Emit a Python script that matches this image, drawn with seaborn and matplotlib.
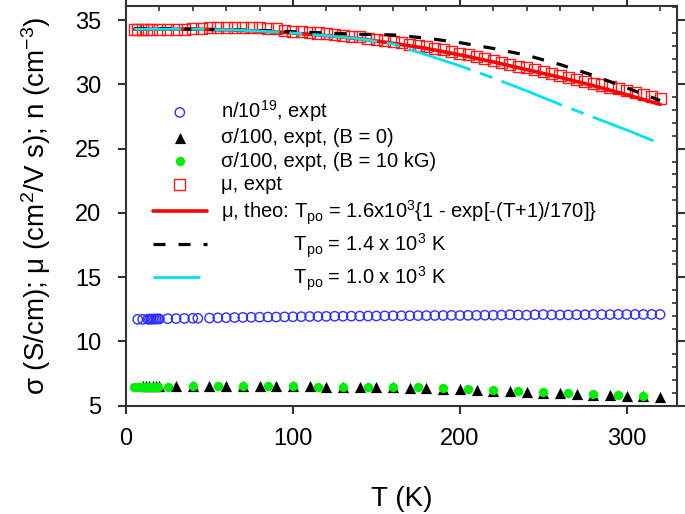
import numpy as np
import pandas as pd
import seaborn as sns
import matplotlib
matplotlib.use("Agg")
import matplotlib.pyplot as plt
from matplotlib.ticker import MultipleLocator

# ---- data ----
# n / 1e19, expt
T_n = [7, 10, 13, 14, 15, 16, 17, 18, 19, 20, 25, 30, 35, 40, 43, 50, 55, 60, 65, 70,
       75, 80, 85, 90, 95, 100, 105, 110, 115, 120, 125, 130, 135, 140, 145, 150, 155,
       160, 165, 170, 175, 180, 185, 190, 195, 200, 205, 210, 215, 220, 225, 230, 235,
       240, 245, 250, 255, 260, 265, 270, 275, 280, 285, 290, 295, 300, 305, 310, 315, 320]
n_expt = [11.72, 11.72, 11.73, 11.73, 11.74, 11.74, 11.74, 11.75, 11.75, 11.75, 11.77, 11.78,
          11.79, 11.8, 11.8, 11.82, 11.84, 11.85, 11.86, 11.87, 11.88, 11.89, 11.9, 11.9,
          11.91, 11.92, 11.93, 11.94, 11.94, 11.95, 11.96, 11.96, 11.97, 11.97, 11.98, 11.98,
          11.99, 12.0, 12.0, 12.0, 12.01, 12.01, 12.02, 12.02, 12.03, 12.02, 12.03, 12.03,
          12.04, 12.04, 12.05, 12.08, 12.06, 12.05, 12.08, 12.09, 12.07, 12.06, 12.07, 12.08,
          12.08, 12.09, 12.09, 12.09, 12.1, 12.1, 12.1, 12.1, 12.1, 12.1]

# sigma / 100, B = 0
T_s0 = [10, 12, 14, 16, 18, 20, 30, 40, 50, 60, 70, 80, 90, 100, 110, 120, 130, 140, 150,
        160, 170, 180, 190, 200, 210, 220, 230, 240, 250, 260, 270, 280, 290, 300, 310, 320]
sig_B0 = [6.5, 6.5, 6.5, 6.5, 6.5, 6.5, 6.5, 6.5, 6.52, 6.5, 6.5, 6.52, 6.5, 6.5, 6.5, 6.48,
          6.48, 6.45, 6.45, 6.42, 6.4, 6.38, 6.33, 6.28, 6.25, 6.18, 6.12, 6.08, 6.02, 5.97,
          5.94, 5.87, 5.8, 5.78, 5.72, 5.65]

# sigma / 100, B = 10 kG
T_s10 = [5, 7, 9, 11, 13, 15, 17, 19, 25, 40, 55, 70, 85, 100, 115, 130, 145, 160, 175,
         190, 205, 220, 235, 250, 265, 280, 295, 310]
sig_B10 = [6.48, 6.48, 6.48, 6.48, 6.48, 6.48, 6.48, 6.48, 6.48, 6.5, 6.5, 6.5, 6.52, 6.5,
           6.48, 6.47, 6.45, 6.45, 6.43, 6.35, 6.27, 6.2, 6.14, 6.09, 5.96, 5.91, 5.8, 5.72]

# mobility, expt
T_mu = [5, 7, 10, 12, 15, 20, 25, 30, 35, 40, 45, 50, 55, 60, 65, 70, 75, 80, 85, 90, 95,
        100, 105, 110, 115, 120, 125, 130, 135, 140, 145, 150, 155, 160, 165, 170, 175, 180,
        185, 190, 195, 200, 205, 210, 215, 220, 225, 230, 235, 240, 245, 250, 255, 260, 265,
        270, 275, 280, 285, 290, 295, 300, 305, 310, 315, 320]
mu_expt = [34.3, 34.3, 34.3, 34.3, 34.3, 34.3, 34.3, 34.3, 34.3, 34.32, 34.35, 34.4, 34.4,
           34.42, 34.42, 34.42, 34.4, 34.4, 34.38, 34.32, 34.22, 34.15, 34.1, 34.05, 34.0,
           33.95, 33.9, 33.8, 33.75, 33.7, 33.6, 33.5, 33.43, 33.35, 33.25, 33.1, 33.0,
           32.92, 32.8, 32.7, 32.55, 32.4, 32.3, 32.15, 32.0, 31.85, 31.7, 31.55, 31.4, 31.3,
           31.15, 31.0, 30.85, 30.7, 30.55, 30.4, 30.25, 30.1, 29.95, 29.8, 29.65, 29.5,
           29.35, 29.2, 29.05, 28.9]

# theory curves
T_theo = [5, 20, 40, 60, 80, 100, 120, 140, 160, 180, 200, 220, 240, 260, 280, 300, 320]
mu_16 = [34.3, 34.3, 34.3, 34.25, 34.15, 34.0, 33.8, 33.55, 33.2, 32.8, 32.3, 31.75, 31.15,
         30.55, 29.9, 29.2, 28.45]
mu_14 = [34.35, 34.35, 34.3, 34.25, 34.2, 34.1, 34.0, 33.9, 33.85, 33.6, 33.25, 32.8, 32.27,
         31.55, 30.7, 29.73, 28.75]
mu_10 = [34.3, 34.3, 34.3, 34.25, 34.15, 34.0, 33.8, 33.55, 33.15, 32.3, 31.45, 30.5, 29.5,
         28.45, 27.45, 26.45, 25.4]

x_ticks = [0, 100, 200, 300]
y_ticks = [5, 10, 15, 20, 25, 30, 35]

sns.set_style("ticks")
plt.rcParams["font.family"] = ["Liberation Sans", "DejaVu Sans"]
plt.rcParams["mathtext.fontset"] = "custom"
plt.rcParams["mathtext.rm"] = "Liberation Sans"
plt.rcParams["mathtext.it"] = "Liberation Sans:italic"
plt.rcParams["mathtext.bf"] = "Liberation Sans:bold"
plt.rcParams["lines.scale_dashes"] = False
plt.rcParams["text.color"] = "black"
plt.rcParams["axes.labelcolor"] = "black"
plt.rcParams["xtick.labelcolor"] = "black"
plt.rcParams["ytick.labelcolor"] = "black"

fig = plt.figure(figsize=(6.85, 5.14), dpi=100)
ax = fig.add_axes([0.184, 0.2107, 0.804, 0.7776])

sns.scatterplot(x=T_n, y=n_expt, marker="o", s=45, facecolor="none",
                edgecolor="#2f2fff", linewidth=1.0, label="n/10$^{19}$, expt", ax=ax)
sns.scatterplot(x=T_s0, y=sig_B0, marker="^", s=65, color="black", linewidth=0,
                label="σ/100, expt, (B = 0)", ax=ax)
sns.scatterplot(x=T_s10, y=sig_B10, marker="o", s=45, color="#00ee00", linewidth=0,
                label="σ/100, expt, (B = 10 kG)", ax=ax)
sns.scatterplot(x=T_mu, y=mu_expt, marker="s", s=64, facecolor="none",
                edgecolor="#ff1a1a", linewidth=1.0, label="μ, expt", ax=ax)

sns.lineplot(x=T_theo, y=mu_16, color="#ff0000", linewidth=2.6,
             label="μ, theo: T$_{\\rm po}$ = 1.6x10$^3${1 - exp[-(T+1)/170]}", ax=ax)
sns.lineplot(x=T_theo, y=mu_14, color="black", linewidth=2.3, linestyle=(0, (8.6, 9.4)),
             label="             T$_{\\rm po}$ = 1.4 x 10$^3$ K", ax=ax)
sns.lineplot(x=T_theo, y=mu_10, color="#00e3ea", linewidth=2.0,
             linestyle=(13, (46.8, 7.2, 9.4, 7.2)),
             label="             T$_{\\rm po}$ = 1.0 x 10$^3$ K", ax=ax)

ax.set_xlim(0, 330)
ax.set_ylim(5, 36.1)
ax.set_xticks(x_ticks)
ax.set_yticks(y_ticks)
ax.xaxis.set_minor_locator(MultipleLocator(20))
ax.yaxis.set_minor_locator(MultipleLocator(1))
ax.tick_params(which="major", direction="out", top=True, right=True, length=6, width=1.5,
               labelsize=17, pad=10, color="#333333")
ax.tick_params(axis="y", which="major", pad=12)
ax.tick_params(which="minor", direction="in", top=True, right=True, bottom=False,
               left=False, length=3.5, width=1.2, color="#333333")
for sp in ax.spines.values():
    sp.set_linewidth(1.5)
    sp.set_color("#333333")

ax.set_xlabel("T (K)", fontsize=20, labelpad=26)
ax.set_ylabel("σ (S/cm); μ (cm$^2$/V s); n (cm$^{-3}$)", fontsize=20, labelpad=16)

ax.legend(loc="upper left", bbox_to_anchor=(0.03, 0.795), frameon=False, fontsize=14.5,
          handlelength=2.7, handletextpad=0.7, labelspacing=0.22, borderpad=0)

fig.savefig("out.png", dpi=100)
